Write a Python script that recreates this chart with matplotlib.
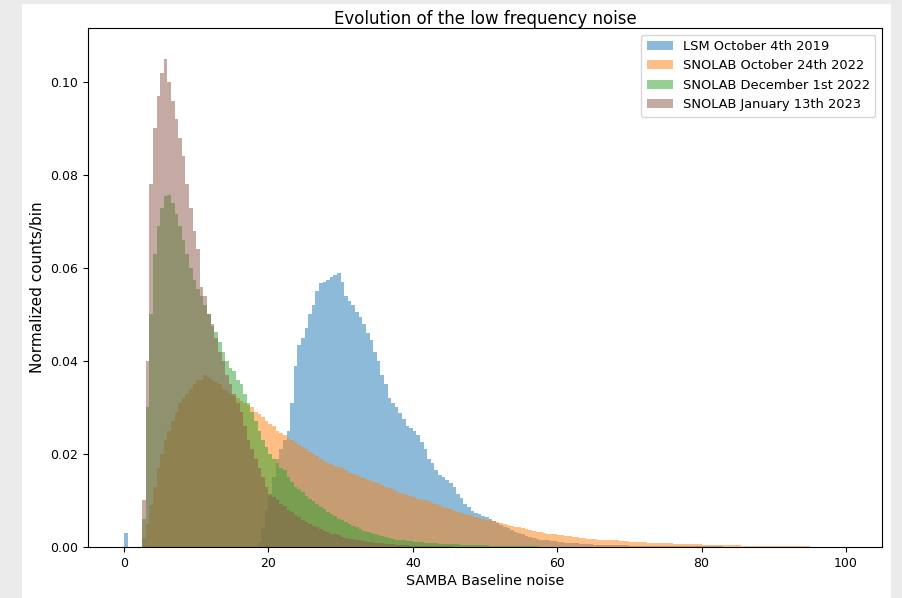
import numpy as np
import matplotlib
matplotlib.use("Agg")
import matplotlib.pyplot as plt
from matplotlib.patches import Rectangle

# ---------------- data ----------------
bin_width = 0.5
x_min, x_max = 0.0, 100.0

labels = ["LSM October 4th 2019", "SNOLAB October 24th 2022",
          "SNOLAB December 1st 2022", "SNOLAB January 13th 2023"]

# LSM October 4th 2019 : isolated bin at 0 and main bump from 18.5
lsm_spike_start = 0.0
lsm_spike_vals = [0.003]
lsm_start = 18.5
lsm_vals = [0.001, 0.004, 0.008, 0.011, 0.015, 0.019, 0.021, 0.023, 0.025,
            0.031, 0.039, 0.0435, 0.045, 0.047, 0.050, 0.052, 0.055, 0.0568,
            0.057, 0.0575, 0.058, 0.0585, 0.059, 0.057, 0.054, 0.053, 0.052,
            0.0505, 0.0495, 0.048, 0.046, 0.0445, 0.042, 0.040, 0.037, 0.035,
            0.032, 0.031, 0.030, 0.0288, 0.0275, 0.026, 0.0255, 0.025, 0.024,
            0.0225, 0.021, 0.019, 0.018, 0.0165, 0.0155, 0.015, 0.0145, 0.0138,
            0.013, 0.0115, 0.0105, 0.0092, 0.0085, 0.0078, 0.0073, 0.007,
            0.0067, 0.0064, 0.006, 0.0055, 0.0051, 0.0047, 0.0044, 0.0041,
            0.0037, 0.0033, 0.003, 0.0027, 0.0024, 0.0022, 0.0020, 0.0018,
            0.0016, 0.0015, 0.0014, 0.0013, 0.0012, 0.0011, 0.0010, 0.0009,
            0.0009, 0.0008, 0.0008, 0.0007, 0.0007, 0.0006, 0.0006, 0.0005,
            0.0005, 0.0005, 0.0005, 0.0004, 0.0004, 0.0004, 0.0004, 0.0004,
            0.0004, 0.0003, 0.0003, 0.0003, 0.0003, 0.0003, 0.0003, 0.0003,
            0.0003, 0.0003, 0.0003, 0.0002, 0.0002, 0.0002, 0.0002, 0.0002,
            0.0002, 0.0002, 0.0002, 0.0002, 0.0002, 0.0002, 0.0002, 0.0002,
            0.0002, 0.0002, 0.0002, 0.0001, 0.0001, 0.0001, 0.0001, 0.0001,
            0.0001, 0.0001, 0.0001, 0.0001, 0.0001, 0.0001, 0.0001, 0.0001,
            0.0001, 0.0001, 0.0001, 0.0001, 0.0001, 0.0001, 0.0001, 0.0001,
            0.0001, 0.0001, 0.0001, 0.0001, 0.0001, 0.0001, 0.0001, 0.0001,
            0.0001]

# SNOLAB October 24th 2022
oct_start = 2.5
oct_vals = [0.002, 0.005, 0.009, 0.013, 0.017, 0.020, 0.023, 0.025, 0.027,
            0.029, 0.031, 0.032, 0.033, 0.034, 0.035, 0.036, 0.036, 0.037,
            0.0365, 0.036, 0.0355, 0.035, 0.034, 0.0335, 0.033, 0.0325, 0.032,
            0.0315, 0.031, 0.0305, 0.030, 0.029, 0.0285, 0.028, 0.027, 0.0265,
            0.026, 0.025, 0.0245, 0.024, 0.0235, 0.023, 0.0225, 0.022, 0.0215,
            0.021, 0.0205, 0.020, 0.0195, 0.019, 0.0185, 0.018, 0.0178, 0.0175,
            0.0172, 0.017, 0.0165, 0.016, 0.0158, 0.0155, 0.015, 0.0148,
            0.0145, 0.0142, 0.014, 0.0138, 0.0134, 0.013, 0.0127, 0.0124,
            0.012, 0.0117, 0.0114, 0.0112, 0.011, 0.0107, 0.0104, 0.0102,
            0.010, 0.0098, 0.0095, 0.0092, 0.009, 0.0087, 0.0084, 0.0081,
            0.0078, 0.0076, 0.0073, 0.0071, 0.0069, 0.0067, 0.0065, 0.0063,
            0.0061, 0.0059, 0.0057, 0.0055, 0.0053, 0.0051, 0.0049, 0.0047,
            0.0045, 0.0044, 0.0042, 0.0041, 0.0039, 0.0037, 0.0035, 0.0033,
            0.0032, 0.0030, 0.0029, 0.0028, 0.0027, 0.0026, 0.0025, 0.0024,
            0.0023, 0.0022, 0.0021, 0.0020, 0.0019, 0.0018, 0.0018, 0.0017,
            0.0016, 0.0016, 0.0015, 0.0015, 0.0014, 0.0014, 0.0013, 0.0012,
            0.0012, 0.0011, 0.0011, 0.0010, 0.0010, 0.0010, 0.0009, 0.0009,
            0.0008, 0.0008, 0.0008, 0.0008, 0.0008, 0.0007, 0.0007, 0.0007,
            0.0007, 0.0006, 0.0006, 0.0006, 0.0006, 0.0005, 0.0005, 0.0005,
            0.0005, 0.0004, 0.0004, 0.0004, 0.0004, 0.0004, 0.0004, 0.0004,
            0.0003, 0.0003, 0.0003, 0.0003, 0.0003, 0.0003, 0.0003, 0.0002,
            0.0002, 0.0002, 0.0002, 0.0002, 0.0002, 0.0002, 0.0002, 0.0002,
            0.0002, 0.0002, 0.0002, 0.0001]

# SNOLAB December 1st 2022
dec_start = 2.5
dec_vals = [0.006, 0.030, 0.050, 0.063, 0.069, 0.073, 0.0755, 0.0757, 0.074,
            0.0715, 0.069, 0.066, 0.063, 0.060, 0.0575, 0.0555, 0.054, 0.052,
            0.050, 0.0475, 0.0462, 0.044, 0.042, 0.040, 0.0385, 0.0378, 0.036,
            0.035, 0.033, 0.031, 0.029, 0.027, 0.025, 0.023, 0.0215, 0.020,
            0.019, 0.018, 0.017, 0.0165, 0.015, 0.014, 0.013, 0.0125, 0.0118,
            0.011, 0.0104, 0.0098, 0.0092, 0.0087, 0.0081, 0.0076, 0.0071,
            0.0066, 0.0061, 0.0057, 0.0053, 0.0049, 0.0045, 0.0042, 0.0038,
            0.0035, 0.0032, 0.003, 0.0027, 0.0025, 0.0023, 0.0021, 0.0019,
            0.0018, 0.0016, 0.0015, 0.0014, 0.0013, 0.0012, 0.0011, 0.0010,
            0.0010, 0.0009, 0.0009, 0.0008, 0.0008, 0.0007, 0.0007, 0.0007,
            0.0006, 0.0006, 0.0006, 0.0005, 0.0005, 0.0005, 0.0005, 0.0004,
            0.0004, 0.0004, 0.0004, 0.0003, 0.0003, 0.0003, 0.0003, 0.0003,
            0.0003, 0.0002, 0.0002, 0.0002, 0.0002, 0.0002, 0.0002, 0.0002,
            0.0002, 0.0001, 0.0001, 0.0001, 0.0001, 0.0001, 0.0001]

# SNOLAB January 13th 2023
jan_start = 2.5
jan_vals = [0.010, 0.040, 0.078, 0.090, 0.097, 0.102, 0.105, 0.100, 0.096,
            0.092, 0.088, 0.084, 0.078, 0.073, 0.068, 0.064, 0.056, 0.054,
            0.050, 0.048, 0.045, 0.042, 0.040, 0.037, 0.035, 0.033, 0.031,
            0.029, 0.026, 0.023, 0.021, 0.019, 0.017, 0.015, 0.013, 0.0115,
            0.0108, 0.0100, 0.0093, 0.0088, 0.0080, 0.0075, 0.0068, 0.0064,
            0.0058, 0.0053, 0.0050, 0.0045, 0.0042, 0.0038, 0.0035, 0.0032,
            0.0029, 0.0027, 0.0025, 0.0022, 0.0020, 0.0018, 0.0017, 0.0015,
            0.0014, 0.0012, 0.0011, 0.0010, 0.0009, 0.0008, 0.0008, 0.0007,
            0.0006, 0.0006, 0.0005, 0.0005, 0.0004, 0.0004, 0.0003, 0.0003,
            0.0003, 0.0003, 0.0002, 0.0002, 0.0002, 0.0002, 0.0002, 0.0002,
            0.0002, 0.0002, 0.0001, 0.0001, 0.0001, 0.0001]

colors = ["C0", "C1", "C2", "C5"]

# ---------------- build histograms ----------------
edges = np.arange(x_min, x_max + bin_width / 2, bin_width)
centers = edges[:-1] + bin_width / 2


def weights_from(parts):
    w = np.zeros(len(centers))
    for start, vals in parts:
        i0 = int(round((start - x_min) / bin_width))
        w[i0:i0 + len(vals)] += np.asarray(vals)[: len(w) - i0]
    return w


series = [
    weights_from([(lsm_spike_start, lsm_spike_vals), (lsm_start, lsm_vals)]),
    weights_from([(oct_start, oct_vals)]),
    weights_from([(dec_start, dec_vals)]),
    weights_from([(jan_start, jan_vals)]),
]

W, H = 902, 598
fig = plt.figure(figsize=(W / 100, H / 100), dpi=100)
fig.patch.set_facecolor("#ebebeb")
fig.add_artist(Rectangle((22 / W, 0), (891 - 22) / W, (H - 4) / H,
                         transform=fig.transFigure, facecolor="white",
                         edgecolor="none", zorder=0))

ax = fig.add_axes([88 / W, 1 - 547 / H, (882 - 88) / W, (547 - 28) / H])
for w, lab, c in zip(series, labels, colors):
    ax.hist(centers, bins=edges, weights=w, histtype="stepfilled",
            alpha=0.5, color=c, lw=0, label=lab)

ax.set_xlim(-5, 105)
ax.set_ylim(0, 0.1116)
ax.set_yticks([0.0, 0.02, 0.04, 0.06, 0.08, 0.10])
ax.yaxis.set_major_formatter(matplotlib.ticker.FormatStrFormatter("%.2f"))
ax.set_xticks([0, 20, 40, 60, 80, 100])
ax.tick_params(labelsize=9)
ax.set_title("Evolution of the low frequency noise", fontsize=12, pad=2.5)
ax.set_xlabel("SAMBA Baseline noise", fontsize=10.3, labelpad=3)
ax.set_ylabel("Normalized counts/bin", fontsize=11)
ax.legend(loc="upper right", fontsize=9.4)

fig.savefig("out.png", dpi=100, facecolor=fig.get_facecolor())
